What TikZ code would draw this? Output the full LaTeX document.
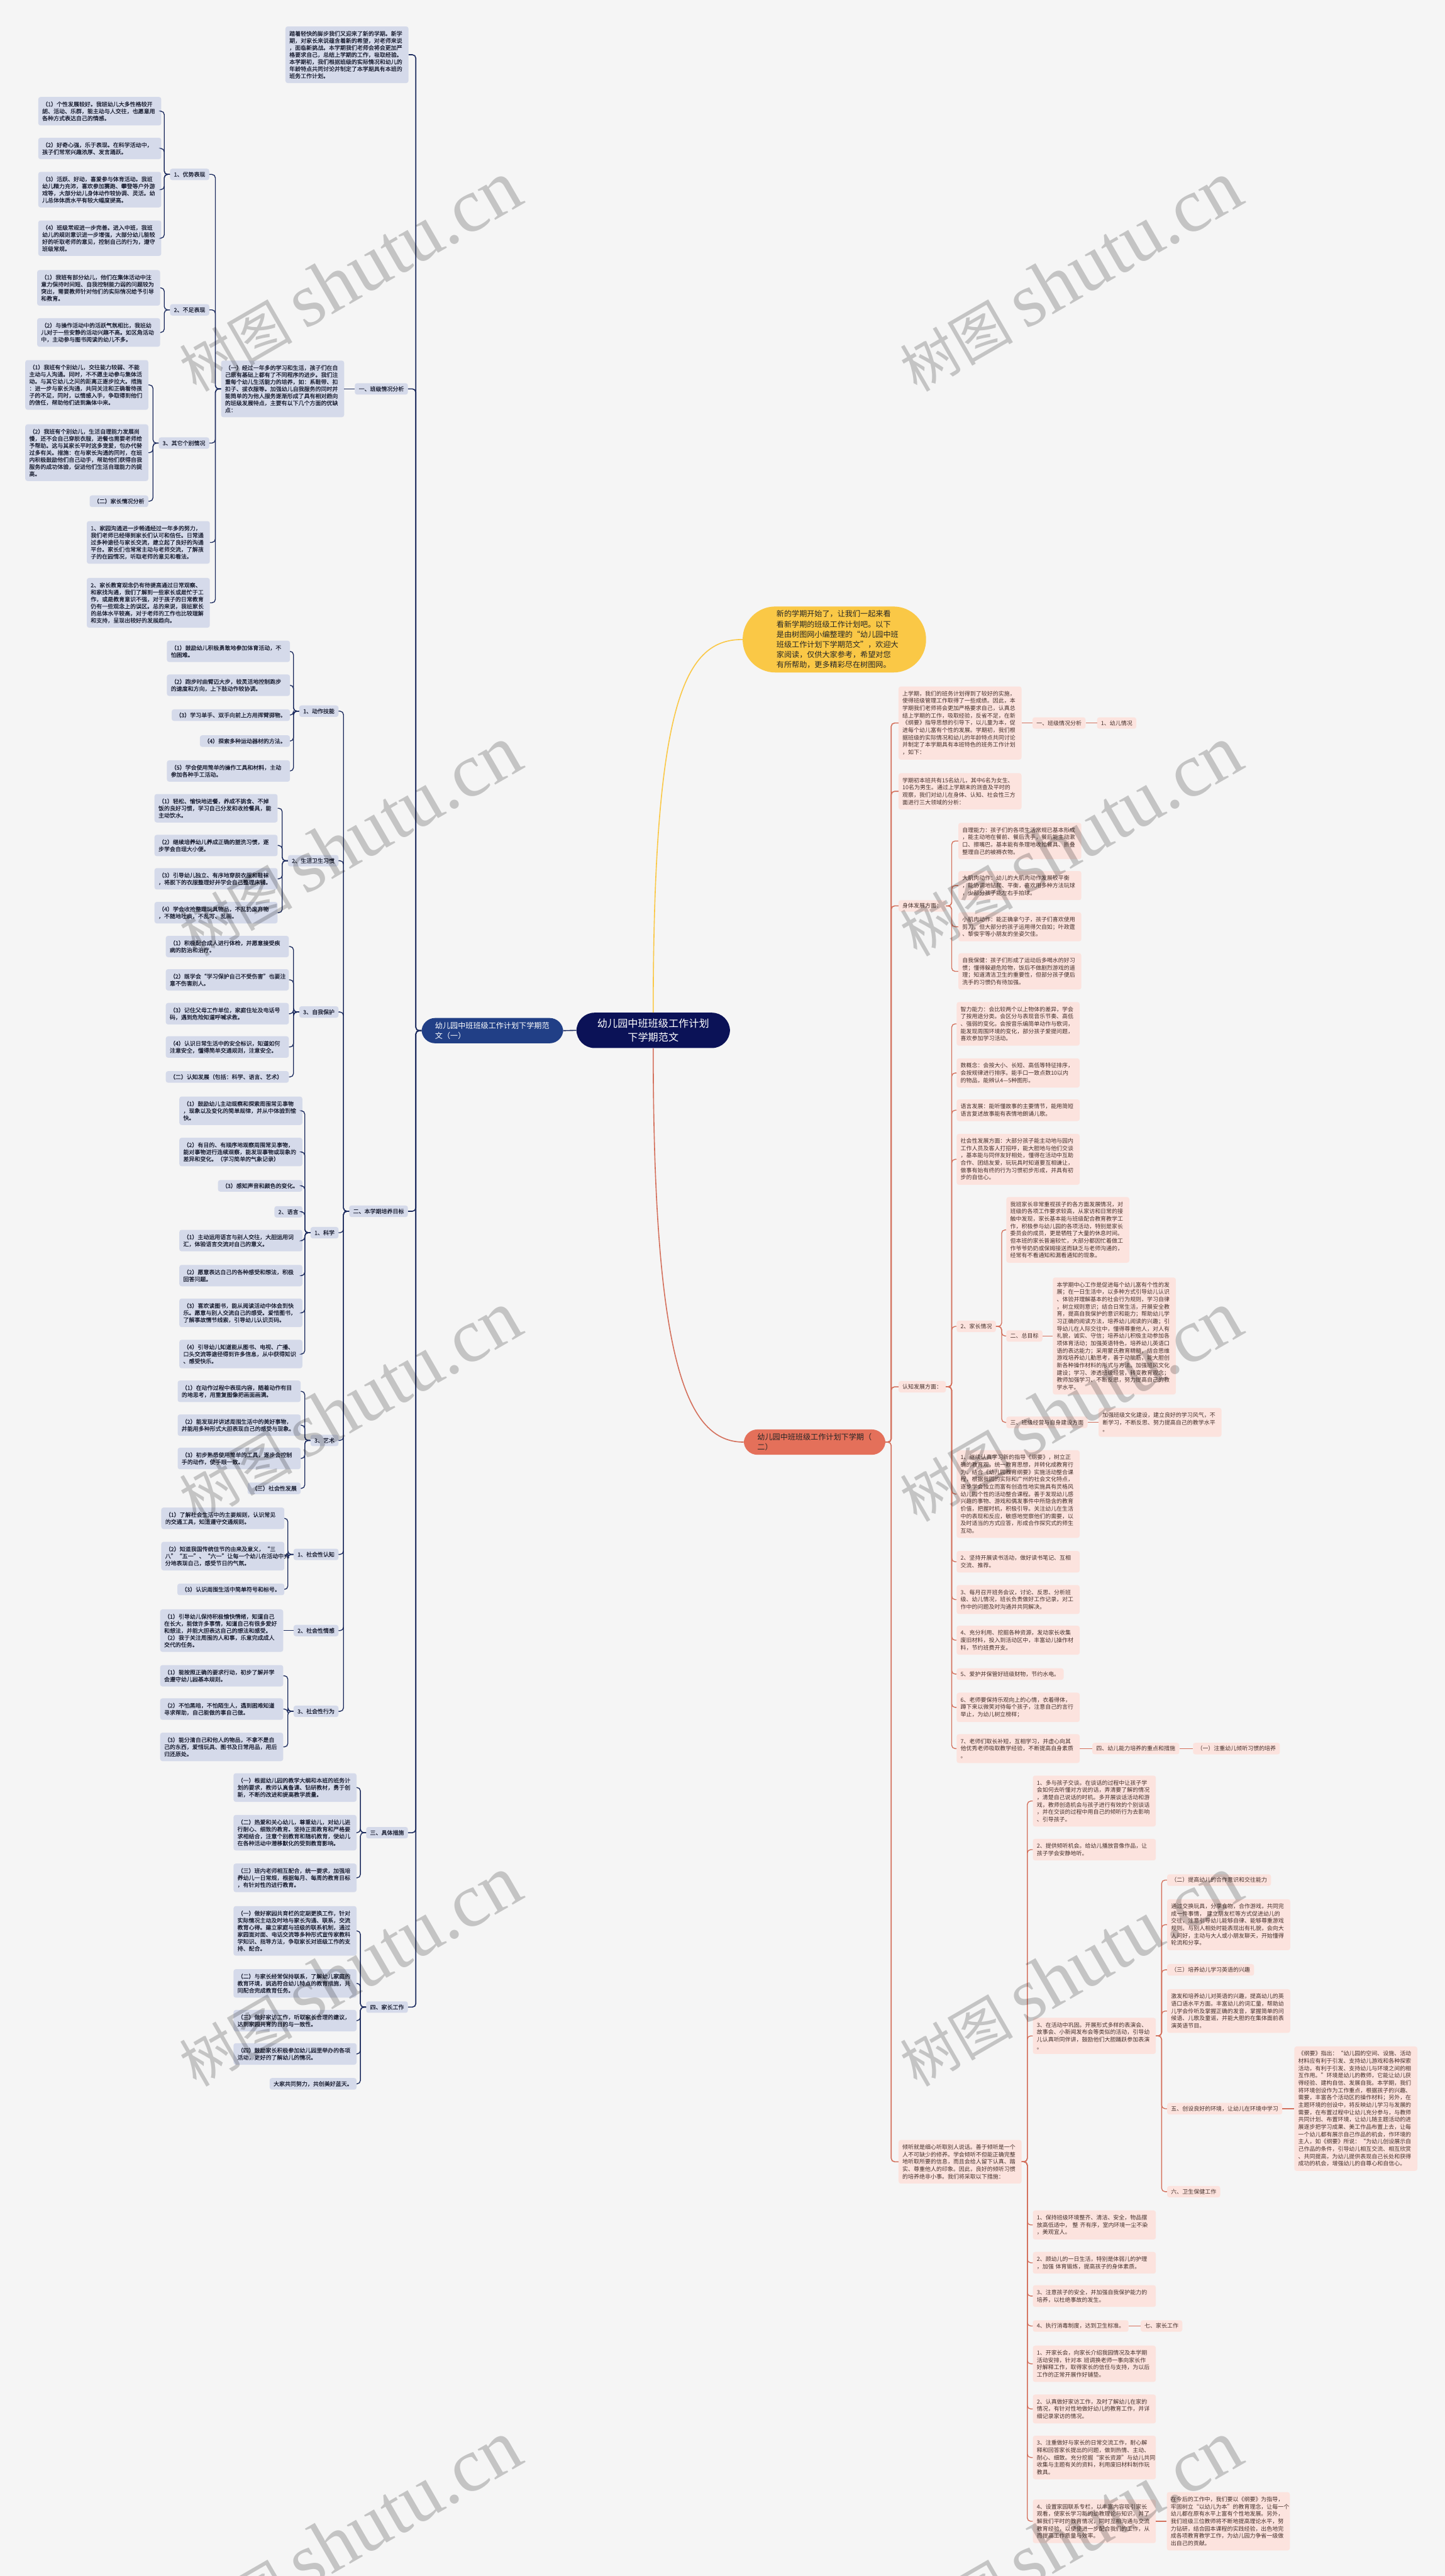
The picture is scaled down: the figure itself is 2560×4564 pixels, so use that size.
\documentclass[tikz,border=0pt]{standalone}
\usepackage{fontspec}
\setmainfont{Noto Sans CJK SC}
\newfontfamily\lftxt{Noto Sans CJK SC}[FakeBold=0.8]
\newfontfamily\rttxt{Noto Sans CJK SC}
\newfontfamily\wmser{Liberation Serif}
\usetikzlibrary{positioning}
\definecolor{bgc}{HTML}{F5F5F5}
\definecolor{lfill}{HTML}{D5DAEA}
\definecolor{ltext}{HTML}{1E2235}
\definecolor{lcol}{HTML}{1C2B5E}
\definecolor{bluec}{HTML}{213F86}
\definecolor{navyc}{HTML}{0B1257}
\definecolor{yelc}{HTML}{FAC846}
\definecolor{redc}{HTML}{E4705A}
\definecolor{rline}{HTML}{D4705C}
\definecolor{rfill}{HTML}{FCE3DE}
\definecolor{rtext}{HTML}{45302B}

\tikzset{
  lbox/.style={fill=lfill, text=ltext, rounded corners=4pt, align=left,
    font=\lftxt\fontsize{10}{12.5}\selectfont, inner xsep=7pt, inner ysep=5.5pt, anchor=east},
  lpar/.style={lbox, text width=204pt, inner ysep=8pt},
  rbox/.style={fill=rfill, text=rtext, rounded corners=4pt, align=left,
    font=\rttxt\fontsize{10}{13}\selectfont, inner xsep=7pt, inner ysep=5.5pt, anchor=west},
  rpar/.style={rbox, text width=204pt, inner ysep=8pt},
  lline/.style={draw=lcol, line width=1.5pt, rounded corners=6pt},
  rln/.style={draw=rline, line width=1.5pt, rounded corners=6pt},
  wmark/.style={anchor=base west, rotate=30, text=black, text opacity=0.2, inner sep=0pt,
    font=\fontsize{100}{100}\selectfont}
}

\begin{document}
\begin{tikzpicture}[x=1pt,y=-1pt]
\useasboundingbox (0,0) rectangle (2560,4564);
\fill[bgc] (0,0) rectangle (2560,4564);

% centre and main branches
\node[fill=navyc, text=white, rounded corners=32pt, align=center, inner xsep=37pt, inner ysep=11pt,
  font=\fontsize{18}{24}\selectfont] (ctr) at (1157.5,1825.5) {幼儿园中班班级工作计划\\下学期范文};
\node[fill=bluec, text=white, rounded corners=24pt, align=left, text width=203pt, inner xsep=24pt, inner ysep=7pt,
  font=\fontsize{13.5}{18}\selectfont] (blue) at (872.5,1826) {幼儿园中班班级工作计划下学期范\\文（一）};
\node[fill=yelc, text=black!85, rounded corners=58pt, align=left, text width=205pt, inner xsep=60pt, inner ysep=7pt,
  font=\fontsize{13.5}{18}\selectfont] (yel) at (1478.5,1133) {新的学期开始了，让我们一起来看\\看新学期的班级工作计划吧。以下\\是由树图网小编整理的“幼儿园中班\\班级工作计划下学期范文”，欢迎大\\家阅读，仅供大家参考，希望对您\\有所帮助，更多精彩尽在树图网。};
\node[fill=redc, text=black!85, rounded corners=24pt, align=left, text width=203pt, inner xsep=24pt, inner ysep=7pt,
  font=\fontsize{13.5}{18}\selectfont] (red) at (1443.5,2555) {幼儿园中班班级工作计划下学期（\\二）};

\draw[lcol, line width=1.8pt] (ctr.west) -- (blue.east);
\draw[yelc, line width=1.8pt] (ctr.north) .. controls +(0,-560) and +(-100,0) .. (yel.west);
\draw[rline, line width=1.8pt] (ctr.south) .. controls +(0,560) and +(-100,0) .. (red.west);

% left: part one
\node[lpar] (lintro) at (724,97) {踏着轻快的脚步我们又迎来了新的学期。新学\\期，对家长来说蕴含着新的希望，对老师来说\\，面临新挑战。本学期我们老师会将会更加严\\格要求自己，总结上学期的工作，吸取经验。\\本学期初，我们根据班级的实际情况和幼儿的\\年龄特点共同讨论并制定了本学期具有本班的\\班务工作计划。};
\node[lbox] (lsec1) at (723,689) {一、班级情况分析};
\node[lpar] (lsec1p) at (610,689) {（一）经过一年多的学习和生活，孩子们在自\\己原有基础上都有了不同程序的进步。我们注\\重每个幼儿生活能力的培养，如：系鞋带、扣\\扣子、拔衣服等。加强幼儿自我服务的同时并\\能简单的为他人服务逐渐形成了具有相对趋向\\的班级发展特点，主要有以下几个方面的优缺\\点：};
\node[lbox] (lyou) at (371,309) {1、优势表现};
\node[lpar] (lyou1) at (286,197) {（1）个性发展较好。我班幼儿大多性格较开\\朗、活动、乐群，能主动与人交往，也愿意用\\各种方式表达自己的情感。};
\node[lpar] (lyou2) at (286,263) {（2）好奇心强，乐于表现。在科学活动中，\\孩子们常常兴趣浓厚、发言踊跃。};
\node[lpar] (lyou3) at (286,336) {（3）活跃、好动，喜爱参与体育活动。我班\\幼儿精力充沛，喜欢参加赛跑、攀登等户外游\\戏等，大部分幼儿身体动作较协调、灵活。幼\\儿总体体质水平有较大幅度提高。};
\node[lpar] (lyou4) at (286,422) {（4）班级常规进一步完善。进入中班，我班\\幼儿的规则意识进一步增强，大部分幼儿能较\\好的听取老师的意见，控制自己的行为，遵守\\班级常规。};
\node[lbox] (lbuzu) at (371,549) {2、不足表现};
\node[lpar] (lbuzu1) at (284,510) {（1）我班有部分幼儿，他们在集体活动中注\\意力保持时间短、自我控制能力弱的问题较为\\突出，需要教师针对他们的实际情况给予引导\\和教育。};
\node[lpar] (lbuzu2) at (284,589) {（2）与操作活动中的活跃气氛相比，我班幼\\儿对于一些安静的活动兴趣不高。如区角活动\\中，主动参与图书阅读的幼儿不多。};
\node[lbox] (lqita) at (371,785) {3、其它个别情况};
\node[lpar] (lqita1) at (263,682) {（1）我班有个别幼儿，交往能力较弱、不能\\主动与人沟通。同时，不不愿主动参与集体活\\动。与其它幼儿之间的距离正逐步拉大。措施\\：进一步与家长沟通，共同关注和正确看待孩\\子的不足，同时，以情感入手，争取得到他们\\的信任，帮助他们进到集体中来。};
\node[lpar] (lqita2) at (263,802) {（2）我班有个别幼儿，生活自理能力发展尚\\慢，还不会自己穿脱衣服，进餐也需要老师给\\予帮助。这与其家长平时这多宠爱，包办代替\\过多有关。措施：在与家长沟通的同时，在班\\内积极鼓励他们自己动手，帮助他们获得自我\\服务的成功体验，促进他们生活自理能力的提\\高。};
\node[lbox] (lqita3) at (263,888) {（二）家长情况分析};
\node[lpar] (ljz1) at (372,961) {1、家园沟通进一步畅通经过一年多的努力，\\我们老师已经得到家长们认可和信任。日常通\\过多种途径与家长交流，建立起了良好的沟通\\平台。家长们也常常主动与老师交流，了解孩\\子的在园情况，听取老师的意见和看法。};
\node[lpar] (ljz2) at (372,1068) {2、家长教育观念仍有待提高通过日常观察、\\和家找沟通，我们了解到一些家长或是忙于工\\作，或是教育意识不强，对于孩子的日常教育\\仍有一些观念上的误区。总的来说，我班家长\\的总体水平较高，对于老师的工作也比较理解\\和支持，呈现出较好的发展趋向。};

% left: part two
\node[lbox] (lsec2) at (723,2146) {二、本学期培养目标};
\node[lbox] (ldz) at (600,1260) {1、动作技能};
\node[lpar] (ldz1) at (514,1154) {（1）鼓励幼儿积极勇敢地参加体育活动，不\\怕困难。};
\node[lpar] (ldz2) at (514,1214) {（2）跑步时曲臂迈大步，较灵活地控制跑步\\的速度和方向，上下肢动作较协调。};
\node[lbox] (ldz3) at (514,1267) {（3）学习单手、双手向前上方用挥臂掷物。};
\node[lbox] (ldz4) at (514,1313) {（4）探索多种运动器材的方法。};
\node[lpar] (ldz5) at (514,1366) {（5）学会使用简单的操作工具和材料，主动\\参加各种手工活动。};
\node[lbox] (lsh) at (600,1525) {2、生活卫生习惯};
\node[lpar] (lsh1) at (492,1432) {（1）轻松、愉快地进餐，养成不挑食、不掉\\饭的良好习惯，学习自己分发和收拾餐具，能\\主动饮水。};
\node[lpar] (lsh2) at (492,1498) {（2）继续培养幼儿养成正确的盥洗习惯，逐\\步学会自理大小便。};
\node[lpar] (lsh3) at (492,1557) {（3）引导幼儿独立、有序地穿脱衣服和鞋袜\\，将脱下的衣服整理好并学会自己整理床铺。};
\node[lpar] (lsh4) at (492,1617) {（4）学会收拾整理玩具物品，不乱扔废弃物\\，不随地吐痰，不乱写、乱画。};
\node[lbox] (lzb) at (600,1793) {3、自我保护};
\node[lpar] (lzb1) at (512,1677) {（1）积极配合成人进行体检，并愿意接受疾\\病的防治和治疗。};
\node[lpar] (lzb2) at (512,1736) {（2）既学会“学习保护自己不受伤害”也要注\\意不伤害别人。};
\node[lpar] (lzb3) at (512,1796) {（3）记住父母工作单位，家庭住址及电话号\\码，遇到危险知道呼喊求救。};
\node[lpar] (lzb4) at (512,1855) {（4）认识日常生活中的安全标识，知道如何\\注意安全，懂得简单交通规则，注意安全。};
\node[lbox, text width=204pt] (lzb5) at (512,1908) {（二）认知发展（包括：科学、语言、艺术）};
\node[lbox] (lkx) at (600,2184) {1、科学};
\node[lpar] (lkx1) at (536,1968) {（1）鼓励幼儿主动观察和探索周围常见事物\\，现象以及变化的简单规律，并从中体验到愉\\快。};
\node[lpar] (lkx2) at (536,2041) {（2）有目的、有顺序地观察周围常见事物，\\能对事物进行连续观察，能发现事物或现象的\\差异和变化。（学习简单的气象记录）};
\node[lbox] (lkx3) at (536,2101) {（3）感知声音和颜色的变化。};
\node[lbox] (lkx4) at (536,2147) {2、语言};
\node[lpar] (lkx5) at (536,2198) {（1）主动运用语言与别人交往，大胆运用词\\汇，体验语言交流对自己的意义。};
\node[lpar] (lkx6) at (536,2260) {（2）愿意表达自己的各种感受和想法，积极\\回答问题。};
\node[lpar] (lkx7) at (536,2326) {（3）喜欢读图书，能从阅读活动中体会到快\\乐。愿意与别人交流自己的感受。爱惜图书，\\了解事故情节线索，引导幼儿认识页码。};
\node[lpar] (lkx8) at (536,2399) {（4）引导幼儿知道能从图书、电视、广播、\\口头交流等途径得到许多信息，从中获得知识\\、感受快乐。};
\node[lbox] (lys) at (600,2552) {3、艺术};
\node[lpar] (lys1) at (533,2465) {（1）在动作过程中表现内容，随着动作有目\\的地思考，用重复图像把画面画满。};
\node[lpar] (lys2) at (533,2525) {（2）能发现并讲述周围生活中的美好事物，\\并能用多种形式大胆表现自己的感受与现象。};
\node[lpar] (lys3) at (533,2584) {（3）初步熟悉使用简单的工具，逐步会控制\\手的动作，使手眼一致。};
\node[lbox] (lys4) at (533,2637) {（三）社会性发展};
\node[lbox] (lrz) at (600,2754) {1、社会性认知};
\node[lpar] (lrz1) at (504,2690) {（1）了解社会生活中的主要规则，认识常见\\的交通工具，知道遵守交通规则。};
\node[lpar] (lrz2) at (504,2757) {（2）知道我国传统佳节的由来及意义，“三\\八”“五一”、“六一”让每一个幼儿在活动中充\\分地表现自己，感受节日的气氛。};
\node[lbox] (lrz3) at (504,2816) {（3）认识周围生活中简单符号和标号。};
\node[lbox] (lqg) at (600,2889) {2、社会性情感};
\node[lpar] (lqg1) at (502,2889) {（1）引导幼儿保持积极愉快情绪，知道自己\\在长大，能做许多事情，知道自己有很多爱好\\和想法，并能大胆表达自己的想法和感受。\\（2）我于关注周围的人和事，乐意完成成人\\交代的任务。};
\node[lbox] (lxw) at (600,3032) {3、社会性行为};
\node[lpar] (lxw1) at (502,2969) {（1）能按照正确的要求行动，初步了解并学\\会遵守幼儿园基本规则。};
\node[lpar] (lxw2) at (502,3028) {（2）不怕黑暗，不怕陌生人，遇到困难知道\\寻求帮助，自己能做的事自己做。};
\node[lpar] (lxw3) at (502,3095) {（3）能分清自己和他人的物品，不拿不是自\\己的东西，爱惜玩具、图书及日常用品，用后\\归还原处。};

% left: parts three and four
\node[lbox] (lsec3) at (723,3247) {三、具体措施};
\node[lpar] (lcs1) at (632,3167) {（一）根据幼儿园的教学大纲和本班的班务计\\划的要求，教师认真备课、钻研教材，勇于创\\新，不断的改进和提高教学质量。};
\node[lpar] (lcs2) at (632,3247) {（二）热爱和关心幼儿，尊重幼儿，对幼儿进\\行耐心、细致的教育。坚持正面教育和严格要\\求相结合，注意个别教育和随机教育，使幼儿\\在各种活动中潜移默化的受到教育影响。};
\node[lpar] (lcs3) at (632,3327) {（三）班内老师相互配合，统一要求，加强培\\养幼儿一日常规，根据每月、每周的教育目标\\，有针对性的进行教育。};
\node[lbox] (lsec4) at (723,3556) {四、家长工作};
\node[lpar] (ljg1) at (632,3421) {（一）做好家园共育栏的定期更换工作，针对\\实际情况主动及时地与家长沟通、联系，交流\\教育心得。建立家庭与班级的联系机制，通过\\家园面对面、电话交流等多种形式宣传家教科\\学知识、指导方法，争取家长对班级工作的支\\持、配合。};
\node[lpar] (ljg2) at (632,3514) {（二）与家长经常保持联系，了解幼儿家庭的\\教育环境，挑选符合幼儿特点的教育措施，共\\同配合完成教育任务。};
\node[lpar] (ljg3) at (632,3580) {（三）做好家访工作，听取家长合理的建议，\\达到家园共育的目的与一致性。};
\node[lpar] (ljg4) at (632,3639) {（四）鼓励家长积极参加幼儿园里举办的各项\\活动，更好的了解幼儿的情况。};
\node[lbox] (ljg5) at (632,3692) {大家共同努力，共创美好蓝天。};

% left connectors
\foreach \c in {lintro,lsec1,lsec2,lsec3,lsec4}
  \draw[lline, line width=1.8pt] (blue.west) -- ++(-10,0) |- (\c.east);
\draw[lline] (lsec1.west) -- (lsec1p.east);
\foreach \c in {lyou,lbuzu,lqita,ljz1,ljz2}
  \draw[lline] (lsec1p.west) -- ++(-10,0) |- (\c.east);
\foreach \c in {lyou1,lyou2,lyou3,lyou4}
  \draw[lline] (lyou.west) -- ++(-10,0) |- (\c.east);
\foreach \c in {lbuzu1,lbuzu2}
  \draw[lline] (lbuzu.west) -- ++(-10,0) |- (\c.east);
\foreach \c in {lqita1,lqita2,lqita3}
  \draw[lline] (lqita.west) -- ++(-10,0) |- (\c.east);
\foreach \c in {ldz,lsh,lzb,lkx,lys,lrz,lqg,lxw}
  \draw[lline] (lsec2.west) -- ++(-10,0) |- (\c.east);
\foreach \c in {ldz1,ldz2,ldz3,ldz4,ldz5}
  \draw[lline] (ldz.west) -- ++(-10,0) |- (\c.east);
\foreach \c in {lsh1,lsh2,lsh3,lsh4}
  \draw[lline] (lsh.west) -- ++(-10,0) |- (\c.east);
\foreach \c in {lzb1,lzb2,lzb3,lzb4,lzb5}
  \draw[lline] (lzb.west) -- ++(-10,0) |- (\c.east);
\foreach \c in {lkx1,lkx2,lkx3,lkx4,lkx5,lkx6,lkx7,lkx8}
  \draw[lline] (lkx.west) -- ++(-10,0) |- (\c.east);
\foreach \c in {lys1,lys2,lys3,lys4}
  \draw[lline] (lys.west) -- ++(-10,0) |- (\c.east);
\foreach \c in {lrz1,lrz2,lrz3}
  \draw[lline] (lrz.west) -- ++(-10,0) |- (\c.east);
\draw[lline] (lqg.west) -- (lqg1.east);
\foreach \c in {lxw1,lxw2,lxw3}
  \draw[lline] (lxw.west) -- ++(-10,0) |- (\c.east);
\foreach \c in {lcs1,lcs2,lcs3}
  \draw[lline] (lsec3.west) -- ++(-10,0) |- (\c.east);
\foreach \c in {ljg1,ljg2,ljg3,ljg4,ljg5}
  \draw[lline] (lsec4.west) -- ++(-10,0) |- (\c.east);

% right: part two
\node[rpar] (rtop1) at (1592,1281) {上学期，我们的班务计划得到了较好的实施，\\使得班级管理工作取得了一些成绩。因此，本\\学期我们老师将会更加严格要求自己，认真总\\结上学期的工作，吸取经验，反省不足，在新\\《纲要》指导思想的引导下，以儿童为本，促\\进每个幼儿富有个性的发展。学期初，我们根\\据班级的实际情况和幼儿的年龄特点共同讨论\\并制定了本学期具有本班特色的班务工作计划\\，如下：};
\node[rbox, right=19pt of rtop1] (rsec1) {一、班级情况分析};
\node[rbox, right=20pt of rsec1] (rkids) {1、幼儿情况};
\node[rpar] (rtop2) at (1592,1402) {学期初本班共有15名幼儿，其中6名为女生、\\10名为男生。通过上学期末的测查及平时的\\观察，我们对幼儿在身体、认知、社会性三方\\面进行三大领域的分析：};
\node[rbox] (rbody) at (1592,1605) {身体发展方面：};
\node[rpar] (rbody1) at (1698,1490) {自理能力：孩子们的各项生活常规已基本形成\\，能主动地在餐前、餐后洗手，餐后能主动漱\\口、擦嘴巴，基本能有条理地收拾餐具、折叠\\整理自己的被褥衣物。};
\node[rpar] (rbody2) at (1698,1569) {大肌肉动作：幼儿的大肌肉动作发展较平衡\\，能协调地钻爬、平衡，喜欢用多种方法玩球\\，少部分孩子能左右手拍球。};
\node[rpar] (rbody3) at (1698,1642) {小肌肉动作：能正确拿勺子，孩子们喜欢使用\\剪刀，但大部分的孩子运用得欠自如；叶政霆\\、黎俊宇等小朋友的坐姿欠佳。};
\node[rpar] (rbody4) at (1698,1721) {自我保健：孩子们形成了运动后多喝水的好习\\惯；懂得躲避危险物，饭后不做剧烈游戏的道\\理；知道清洁卫生的重要性，但部分孩子便后\\洗手的习惯仍有待加强。};
\node[rbox] (rmind) at (1592,2457) {认知发展方面：};
\node[rpar] (rmind1) at (1695,1814) {智力能力：会比较两个以上物体的差异，学会\\了按用途分类。会区分与表现音乐节奏、高低\\、强弱的变化。会按音乐编简单动作与歌词，\\能发现周围环境的变化，部分孩子爱提问题，\\喜欢参加学习活动。};
\node[rpar] (rmind2) at (1695,1901) {数概念：会按大小、长短、高低等特征排序，\\会按规律进行排序。能手口一致点数10以内\\的物品，能辨认4—5种图形。};
\node[rpar] (rmind3) at (1695,1967) {语言发展：能听懂故事的主要情节，能用简短\\语言复述故事能有表情地朗诵儿歌。};
\node[rpar] (rmind4) at (1695,2054) {社会性发展方面：大部分孩子能主动地与园内\\工作人员及客人打招呼，能大胆地与他们交谈\\，基本能与同伴友好相处，懂得在活动中互助\\合作、团结友爱，玩玩具时知道要互相谦让，\\做事有始有终的行为习惯初步形成，并具有初\\步的自信心。};
\node[rbox] (rparent) at (1695,2350) {2、家长情况};
\node[rpar] (rparent1) at (1783,2179) {我班家长非常重视孩子的各方面发展情况，对\\班级的各项工作要求较高，从家访和日常的接\\触中发现，家长基本能与班级配合教育教学工\\作，积极参与幼儿园的各项活动，特别是家长\\委员会的成员，更是牺牲了大量的休息时间。\\但本班的家长普遍较忙，大部分都因忙着做工\\作爷爷奶奶或保姆接送而缺乏与老师沟通的，\\经常有不看通知和漏看通知的现象。};
\node[rbox] (rgoal) at (1783,2367) {二、总目标};
\node[rpar, right=18pt of rgoal] (rgoalt) {本学期中心工作是促进每个幼儿富有个性的发\\展；在一日生活中，以多种方式引导幼儿认识\\、体验并理解基本的社会行为规则，学习自律\\，树立规则意识；结合日常生活，开展安全教\\育，提高自我保护的意识和能力；帮助幼儿学\\习正确的阅读方法，培养幼儿阅读的兴趣；引\\导幼儿在人际交往中，懂得尊重他人，对人有\\礼貌，诚实、守信；培养幼儿积极主动参加各\\项体育活动；加强英语特色，培养幼儿英语口\\语的表达能力；采用蒙氏教育精髓，结合思维\\游戏培养幼儿勤思考，善于动脑筋，能大胆创\\新各种操作材料的形式与方法。加强班风文化\\建设；学习、渗透班级经营，转变教育观念；\\教师加强学习、不断反思，努力提高自己的教\\学水平。};
\node[rbox] (rmgmt) at (1783,2520) {三、班级经营与自身建设方面};
\node[rpar, right=19pt of rmgmt] (rmgmtt) {加强班级文化建设，建立良好的学习风气，不\\断学习，不断反思、努力提高自己的教学水平\\。};
\node[rpar] (rw1) at (1695,2647) {1、继续认真学习新的指导《纲要》，树立正\\确的教育观，统一教育思想，并转化成教育行\\为。结合《幼儿园教育纲要》实施活动整合课\\程，根据我园的实际和广州的社会文化特点，\\逐步学会独立而富有创造性地实施具有灵格风\\幼儿园个性的活动整合课程。善于发现幼儿感\\兴趣的事物、游戏和偶发事件中所隐含的教育\\价值，把握时机，积极引导。关注幼儿在生活\\中的表现和反应，敏感地觉察他们的需要，以\\及时适当的方式应答，形成合作探究式的师生\\互动。};
\node[rpar] (rw2) at (1695,2767) {2、坚持开展读书活动，做好读书笔记、互相\\交流、推荐。};
\node[rpar] (rw3) at (1695,2834) {3、每月召开班务会议，讨论、反思、分析班\\级、幼儿情况，班长负责做好工作记录，对工\\作中的问题及时沟通并共同解决。};
\node[rpar] (rw4) at (1695,2906) {4、充分利用、挖掘各种资源，发动家长收集\\废旧材料，投入到活动区中，丰富幼儿操作材\\料，节约班费开支。};
\node[rbox] (rw5) at (1695,2966) {5、爱护并保管好班级财物，节约水电。};
\node[rpar] (rw6) at (1695,3025) {6、老师要保持乐观向上的心情，衣着得体，\\蹲下来以微笑对待每个孩子，注意自己的言行\\举止，为幼儿树立榜样；};
\node[rpar] (rw7) at (1695,3098) {7、老师们取长补短，互相学习，并虚心向其\\他优秀老师吸取教学经验，不断提高自身素质\\。};
\node[rbox, right=22pt of rw7] (rfocus) {四、幼儿能力培养的重点和措施};
\node[rbox, right=24pt of rfocus] (rlisten) {（一）注重幼儿倾听习惯的培养};
\node[rpar] (rqt) at (1592,3830) {倾听就是细心听取别人说话。善于倾听是一个\\人不可缺少的修养。学会倾听不但能正确完整\\地听取所要的信息，而且会给人留下认真、踏\\实、尊重他人的印象。因此，良好的倾听习惯\\的培养绝非小事。我们将采取以下措施：};
\node[rpar] (rq1) at (1830,3191) {1、多与孩子交谈。在谈话的过程中让孩子学\\会如何去听懂对方说的话，弄清要了解的情况\\，清楚自己说话的时机。多开展谈话活动和游\\戏，教师创造机会与孩子进行有效的个别谈话\\，并在交谈的过程中用自己的倾听行为去影响\\、引导孩子。};
\node[rpar] (rq2) at (1830,3277) {2、提供倾听机会。给幼儿播放音像作品，让\\孩子学会安静地听。};
\node[rpar] (rq3) at (1830,3607) {3、在活动中巩固。开展形式多样的表演会、\\故事会、小新闻发布会等类似的活动，引导幼\\儿认真听同伴讲，鼓励他们大胆踊跃参加表演\\。};
\node[rbox] (rq3a) at (2068,3331) {（二）提高幼儿的合作意识和交往能力};
\node[rpar] (rq3b) at (2068,3410) {通过交换玩具，分享食物，合作游戏，共同完\\成一件事情， 建立朋友栏等方式促进幼儿的\\交往，注意引导幼儿能够自律、能够尊重游戏\\规则。与别人相处时能表现出有礼貌，会向大\\人问好，主动与大人或小朋友聊天，开始懂得\\轮流和分享。};
\node[rbox] (rq3c) at (2068,3490) {（三）培养幼儿学习英语的兴趣};
\node[rpar] (rq3d) at (2068,3563) {激发和培养幼儿对英语的兴趣，提高幼儿的英\\语口语水平方面。丰富幼儿的词汇量，帮助幼\\儿学会伶听及掌握正确的发音，掌握简单的问\\候语、儿歌及童谣，并能大胆的在集体面前表\\演英语节目。};
\node[rbox] (rq3e) at (2068,3736) {五、创设良好的环境，让幼儿在环境中学习};
\node[rpar, right=21pt of rq3e] (rgang) {《纲要》指出：“幼儿园的空间、设施、活动\\材料应有利于引发、支持幼儿游戏和各种探索\\活动，有利于引发、支持幼儿与环境之间的相\\互作用。”环境是幼儿的教师，它能让幼儿获\\得经验、建构自信、发展自我。本学期，我们\\将环境创设作为工作重点，根据孩子的兴趣、\\需要，丰富各个活动区的操作材料；另外，在\\主题环境的创设中，将反映幼儿学习与发展的\\需要，在布置过程中让幼儿充分参与，与教师\\共同计划、布置环境，让幼儿随主题活动的进\\展逐步把学习成果、美工作品布置上去，让每\\一个幼儿都有展示自己作品的机会，作环境的\\主人，如《纲要》所说：“为幼儿创设展示自\\己作品的条件，引导幼儿相互交流、相互欣赏\\、共同提高，为幼儿提供表现自己长处和获得\\成功的机会，增强幼儿的自尊心和自信心。};
\node[rbox] (rq3f) at (2068,3883) {六、卫生保健工作};
\node[rpar] (rh1) at (1830,3942) {1、保持班级环境整齐、清洁、安全，物品摆\\放高低适中， 整 齐有序，室内环境一尘不染\\，美观宜人。};
\node[rpar] (rh2) at (1830,4009) {2、顾幼儿的一日生活，特别是体弱儿的护理\\，加强 体育锻炼，提高孩子的身体素质。};
\node[rpar] (rh3) at (1830,4068) {3、注意孩子的安全，并加强自我保护能力的\\培养，以杜绝事故的发生。};
\node[rbox] (rh4) at (1830,4121) {4、执行消毒制度，达到卫生标准。};
\node[rbox, right=21pt of rh4] (rfam) {七、家长工作};
\node[rpar] (rf1) at (1830,4188) {1、开家长会，向家长介绍我园情况及本学期\\活动安排，针对本 班调换老师一事向家长作\\好解释工作，取得家长的信任与支持，为以后\\工作的正常开展作好铺垫。};
\node[rpar] (rf2) at (1830,4268) {2、认真做好家访工作，及时了解幼儿在家的\\情况，有针对性地做好幼儿的教育工作，并详\\细记录家访的情况。};
\node[rpar] (rf3) at (1830,4354) {3、注重做好与家长的日常交流工作，耐心解\\释和回答家长提出的问题，做到热情、主动、\\耐心、细致。充分挖掘“家长资源”与幼儿共同\\收集与主题有关的资料，利用废旧材料制作玩\\教具。};
\node[rpar] (rf4) at (1830,4467) {4、设置家园联系专栏，以丰富内容吸引家长\\观看，使家长学习新的幼教理论与知识，并了\\解我们平时的教育情况，同时互相沟通与交流\\教育经验，以便使进一步配合我们的工作，从\\而提高工作质量与效率。};
\node[rpar, right=19pt of rf4] (rend) {在今后的工作中，我们要以《纲要》为指导，\\牢固树立“以幼儿为本”的教育理念，让每一个\\幼儿都在原有水平上富有个性地发展。另外，\\我们班级三位教师将不断地提高理论水平，努\\力钻研，结合园本课程的实践经验，出色地完\\成各项教育教学工作，为幼儿园力争省一级做\\出自己的贡献。};

% right connectors
\foreach \c in {rtop1,rtop2,rbody,rmind,rqt}
  \draw[rln, line width=1.8pt] (red.east) -- ++(10,0) |- (\c.west);
\draw[rln] (rtop1.east) -- (rsec1.west);
\draw[rln] (rsec1.east) -- (rkids.west);
\foreach \c in {rbody1,rbody2,rbody3,rbody4}
  \draw[rln] (rbody.east) -- ++(10,0) |- (\c.west);
\foreach \c in {rmind1,rmind2,rmind3,rmind4,rparent,rw1,rw2,rw3,rw4,rw5,rw6,rw7}
  \draw[rln] (rmind.east) -- ++(10,0) |- (\c.west);
\foreach \c in {rparent1,rgoal,rmgmt}
  \draw[rln] (rparent.east) -- ++(10,0) |- (\c.west);
\draw[rln] (rgoal.east) -- (rgoalt.west);
\draw[rln] (rmgmt.east) -- (rmgmtt.west);
\draw[rln] (rw7.east) -- (rfocus.west);
\draw[rln] (rfocus.east) -- (rlisten.west);
\foreach \c in {rq1,rq2,rq3,rh1,rh2,rh3,rh4,rf1,rf2,rf3,rf4}
  \draw[rln] (rqt.east) -- ++(10,0) |- (\c.west);
\foreach \c in {rq3a,rq3b,rq3c,rq3d,rq3e,rq3f}
  \draw[rln] (rq3.east) -- ++(10,0) |- (\c.west);
\draw[rln] (rq3e.east) -- (rgang.west);
\draw[rln] (rh4.east) -- (rfam.west);
\draw[rln] (rf4.east) -- (rend.west);

% watermark
\foreach \wx in {348,1625}
  \foreach \wy [count=\k] in {696,1697,2698,3699,4700}
    \node[wmark] (wm\wx-\k) at (\wx,\wy) {树图 {\wmser\fontsize{135}{135}\selectfont shutu.cn}};
\end{tikzpicture}
\end{document}
